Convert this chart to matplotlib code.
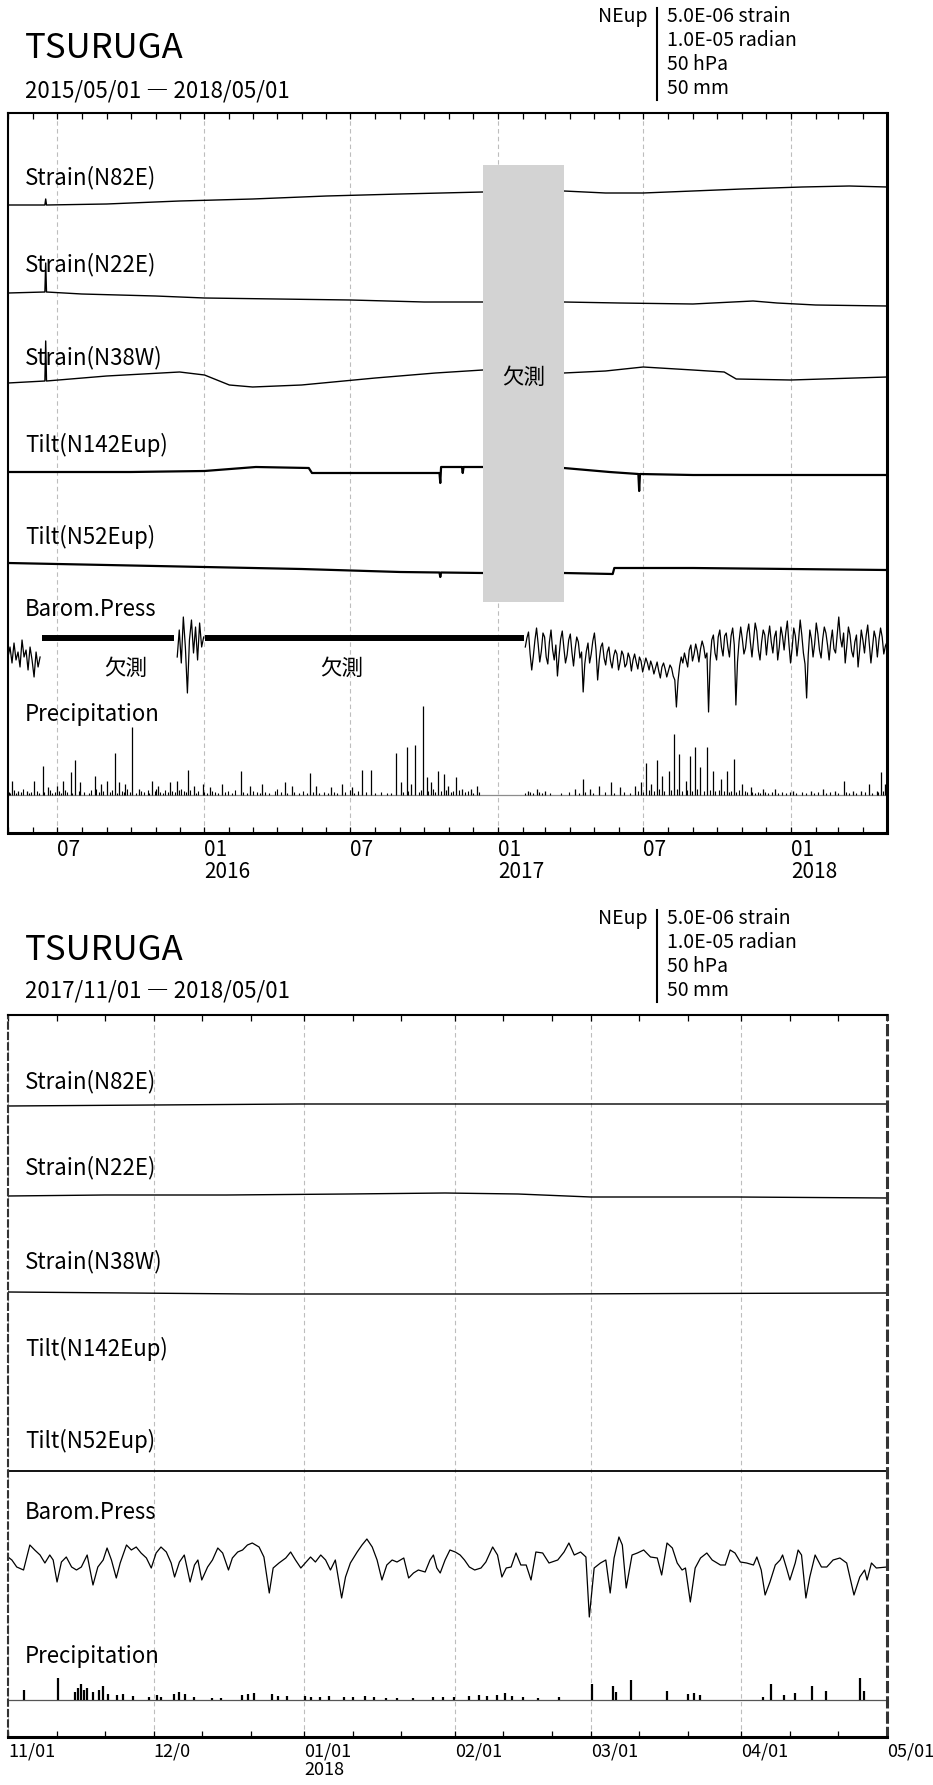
import matplotlib
matplotlib.use("Agg")
import matplotlib.pyplot as plt
import matplotlib.dates as mdates
import matplotlib.font_manager as fm
from matplotlib.patches import Rectangle
import numpy as np
import pandas as pd

W, H = 933, 1785
L, R = 8, 887          # plot frame, px

installed = {f.name for f in fm.fontManager.ttflist}


def pick(*names):
    for n in names:
        if n in installed:
            return n
    return "DejaVu Sans"


MONO = pick("Noto Sans Mono CJK JP", "Noto Sans CJK JP", "DejaVu Sans Mono")

# px per unit on the page
STRAIN_PX = 10.0   # per 1e-6 strain
TILT_PX = 5.0      # per 1e-6 radian
PRESS_PX = 1.0     # per hPa
RAIN_PX = 1.0      # per mm

# ------------------------------------------------------------------
# 2015/05/01 - 2018/05/01
# ------------------------------------------------------------------
top_start, top_end = "2015-05-01", "2018-05-01"

n82e_date = ["2015-05-01", "2015-06-16", "2015-06-17", "2015-06-18", "2015-09-01", "2015-12-01",
             "2016-03-01", "2016-06-01", "2016-09-01", "2016-12-13", "2017-03-24", "2017-05-15",
             "2017-07-01", "2017-09-01", "2017-11-01", "2018-01-15", "2018-03-15", "2018-05-01"]
n82e_val = [0.0, 0.0, 0.6, 0.0, 0.1, 0.4, 0.6, 0.9, 1.1, 1.3, 1.4, 1.2, 1.2, 1.4, 1.6, 1.8, 1.9, 1.8]

n22e_date = ["2015-05-01", "2015-06-16", "2015-06-17", "2015-06-18", "2015-08-01", "2015-11-01",
             "2016-01-01", "2016-04-01", "2016-07-01", "2016-10-01", "2016-12-13", "2017-03-24",
             "2017-06-01", "2017-09-01", "2017-11-15", "2017-12-15", "2018-02-01", "2018-05-01"]
n22e_val = [0.0, 0.1, 3.0, 0.1, -0.1, -0.3, -0.5, -0.6, -0.7, -0.9, -0.9, -0.9,
            -1.0, -1.1, -0.8, -1.0, -1.2, -1.3]

n38w_date = ["2015-05-01", "2015-06-16", "2015-06-17", "2015-06-18", "2015-09-01", "2015-12-01",
             "2016-01-01", "2016-02-01", "2016-03-01", "2016-05-01", "2016-08-01", "2016-10-15",
             "2016-12-13", "2017-03-24", "2017-05-15", "2017-07-01", "2017-09-01", "2017-10-10",
             "2017-10-25", "2018-01-01", "2018-05-01"]
n38w_val = [-0.1, 0.1, 4.1, 0.1, 0.6, 1.0, 0.7, -0.3, -0.5, -0.3, 0.4, 0.9,
            1.2, 0.9, 1.1, 1.5, 1.2, 1.0, 0.3, 0.2, 0.5]

t142_date = ["2015-05-01", "2015-10-01", "2016-01-01", "2016-03-05", "2016-05-10", "2016-05-14",
             "2016-10-20", "2016-10-21", "2016-10-22", "2016-11-17", "2016-11-18", "2016-11-19",
             "2016-12-13", "2017-03-24", "2017-05-20", "2017-06-25", "2017-06-26", "2017-06-27",
             "2017-09-01", "2018-01-01", "2018-05-01"]
t142_val = [-0.4, -0.4, -0.2, 0.6, 0.4, -0.6, -0.6, -2.6, 0.6, 0.6, -0.6, 0.6,
            0.6, 0.4, -0.4, -0.8, -4.2, -0.8, -1.0, -1.0, -1.0]

t52_date = ["2015-05-01", "2015-09-01", "2016-01-01", "2016-05-01", "2016-09-01", "2016-10-20",
            "2016-10-21", "2016-10-22", "2016-12-13", "2017-03-24", "2017-05-24", "2017-05-26",
            "2017-09-01", "2018-01-01", "2018-05-01"]
t52_val = [0.2, -0.2, -0.6, -1.0, -1.6, -1.7, -2.6, -1.7, -1.8, -1.8, -2.0, -0.8,
           -0.8, -1.0, -1.2]

# barometric pressure (hPa), three recorded stretches
press_a_span = ("2015-05-01", "2015-06-10")
press_a = [1009, 1019, 1003, 1023, 1006, 1014, 999, 1026, 1009, 1016, 996, 1019, 1006, 989, 1014, 999, 1009]
press_b_span = ("2015-11-28", "2015-12-31")
press_b = [1009, 1036, 1003, 1049, 1019, 973, 1026, 1046, 1013, 1039, 1006, 1043, 1019, 1029]
press_c_span = ("2017-02-04", "2018-05-01")
press_c = [
    # Feb - mid Apr 2017
    1019, 1028, 1034, 1012, 996, 1010, 1026, 1038, 1022, 1004, 1015, 1033, 1029, 1009, 1002, 1024,
    1036, 1016, 1006, 1021, 990, 1010, 1027, 1035, 1018, 1003, 1011, 1026, 1032, 1014, 1000, 1017,
    1029, 1024, 1008, 1014, 974, 1002,
    # mid Apr - Jun
    1015, 1023, 1003, 1012, 1025, 1033, 1016, 986, 1006, 1019, 1023, 1008, 1001, 1014, 1019, 1005,
    998, 1010, 1016, 1012, 996, 1004, 1015, 1011, 999, 1002, 1013, 1008, 995, 1006, 1012, 1004,
    997, 1009, 1005, 994, 1001, 1008,
    # Jul - Aug
    1003, 996, 1005, 1000, 992, 998, 1004, 995, 988, 999, 1003, 997, 989, 995, 1001, 998,
    990, 986, 959, 985, 1000, 1009, 1003, 1013,
    # Sep - Oct
    1006, 999, 1016, 1021, 1005, 1012, 1022, 1015, 1004, 1017, 1025, 1019, 1008, 1013, 954, 1005,
    1026, 1031, 1013, 1006, 1029, 1036, 1019, 1010, 1030, 1033,
    # Oct 2017 - Apr 2018
    1019, 1009, 1030, 1038, 1021, 961, 1004, 1025, 1039, 1027, 1012, 1018, 1033, 1042, 1024, 1009,
    1026, 1043, 1035, 1016, 1006, 1024, 1036, 1031, 1011, 1028, 1040, 1024, 1013, 1029, 1035, 1006,
    1019, 1039, 1030, 1016, 1033, 1045, 1022, 1003, 1018, 1038, 1030, 1010, 1026, 1046, 1031, 1013,
    1002, 968, 1011, 1036, 1027, 1009, 1022, 1043, 1032, 1016, 1008, 1027, 1039, 1033, 1021, 1006,
    1024, 1036, 1017, 1013, 1031, 1049, 1028, 1019, 1033, 1003, 1020, 1039, 1031, 1015, 1009, 1024,
    1031, 999, 1016, 1036, 1026, 1013, 1030, 1041, 1022, 1003, 1019, 1035, 1028, 1009, 1026, 1038,
    1029, 1012, 1020, 1024]
press_missing = [("2015-06-12", "2015-11-24"), ("2016-01-02", "2017-02-02")]

# daily precipitation (mm), day offset from 2015/05/01
rain_top_day = [5, 12, 24, 33, 44, 50, 61, 68, 78, 84, 90, 108, 116, 124, 133, 139, 146, 155, 163,
                180, 187, 202, 211, 224, 232, 243, 252, 267, 290, 302, 317, 345, 354, 377, 384, 403,
                417, 429, 441, 452, 484, 490, 497, 503, 508, 517, 522, 527, 536, 544, 549, 559, 566,
                577, 585, 648, 659, 670, 707, 717, 726, 737, 752, 763, 782, 789, 796, 802, 809, 815,
                824, 831, 837, 845, 850, 857, 863, 872, 879, 889, 897, 905, 915, 927, 941, 956, 979,
                1001, 1016, 1031, 1042, 1053, 1064, 1073, 1083, 1089, 1094]
rain_top_mm = [14, 4, 4, 14, 29, 8, 9, 14, 23, 35, 13, 19, 11, 14, 42, 13, 11, 68, 6,
               14, 9, 13, 14, 25, 9, 11, 8, 11, 24, 9, 11, 13, 9, 22, 9, 8,
               11, 8, 25, 25, 42, 13, 48, 11, 50, 89, 18, 13, 24, 21, 9, 18, 6,
               6, 9, 4, 6, 4, 6, 16, 6, 9, 13, 8, 9, 13, 32, 11, 35, 19,
               24, 61, 41, 14, 39, 48, 28, 48, 24, 16, 24, 36, 11, 8, 6, 6, 4,
               4, 6, 4, 14, 4, 4, 11, 4, 23, 11]
drizzle_day = [1, 3, 8, 10, 16, 19, 26, 29, 36, 39, 45, 52, 55, 58, 63, 66, 71, 74, 80, 88, 95, 101,
               104, 110, 113, 119, 127, 130, 136, 142, 145, 149, 152, 159, 166, 170, 174, 176, 183,
               185, 190, 193, 196, 199, 205, 208, 213, 216, 219, 222, 227, 234, 237, 245, 248, 254,
               258, 262, 270, 274, 279, 283, 293, 298, 306, 311, 314, 321, 326, 333, 336, 341, 348,
               357, 363, 368, 373, 380, 388, 394, 399, 406, 410, 420, 426, 432, 437, 446, 457, 465,
               472, 478, 493, 499, 512, 515, 524, 530, 533, 540, 546, 552, 555, 562, 570, 573, 580,
               587, 645, 651, 655, 662, 666, 676, 690, 700, 712, 720, 730, 744, 756, 768, 775, 785,
               792, 799, 805, 812, 818, 827, 834, 841, 847, 853, 859, 868, 875, 882, 886, 893, 899,
               902, 908, 912, 919, 922, 928, 931, 935, 938, 944, 948, 952, 960, 965, 970, 975, 983,
               990, 995, 1005, 1010, 1020, 1025, 1035, 1045, 1048, 1057, 1068, 1077, 1085, 1091]
drizzle_mm = [3, 2, 5, 2, 3, 6, 2, 3, 4, 2, 3, 5, 2, 3, 4, 2, 5, 3, 2, 4, 3, 2,
              5, 6, 3, 4, 3, 5, 2, 4, 3, 6, 3, 2, 4, 3, 5, 2, 4,
              6, 3, 2, 5, 3, 4, 3, 5, 6, 4, 3, 5, 2, 4, 3, 2, 4,
              3, 2, 3, 4, 2, 5, 3, 2, 4, 3, 2, 3, 2, 4, 6, 3, 2,
              3, 2, 4, 2, 3, 2, 3, 2, 3, 2, 3, 5, 2, 4, 3, 2, 3,
              2, 2, 3, 4, 3, 5, 4, 6, 3, 4, 5, 3, 4, 5, 3, 4, 2,
              3, 2, 3, 2, 3, 2, 2, 2, 3, 2, 3, 2, 3, 2, 3, 2, 4,
              3, 5, 4, 6, 4, 5, 6, 4, 5, 4, 6, 4, 5, 4, 5, 4, 3,
              4, 3, 5, 4, 3, 3, 2, 3, 2, 3, 2, 3, 2, 3, 2, 3, 2,
              3, 2, 2, 3, 2, 3, 2, 3, 2, 2, 3, 2, 3, 4]
gap_box = ("2016-12-13", "2017-03-24")

# ------------------------------------------------------------------
# 2017/11/01 - 2018/05/01  (day offsets from 11/01)
# ------------------------------------------------------------------
bot_start, bot_end = "2017-11-01", "2018-05-01"

n82e_b_day = [0, 30, 60, 90, 120, 150, 181]
n82e_b_val = [0.0, 0.1, 0.2, 0.2, 0.2, 0.2, 0.2]
n22e_b_day = [0, 20, 45, 70, 90, 105, 120, 150, 181]
n22e_b_val = [0.0, 0.1, 0.1, 0.2, 0.3, 0.2, -0.1, -0.1, -0.2]
n38w_b_day = [0, 25, 50, 80, 110, 140, 181]
n38w_b_val = [0.1, 0.0, -0.1, -0.1, -0.1, -0.05, 0.0]
t52_b_day = [0, 60, 120, 181]
t52_b_val = [0.0, 0.0, 0.0, 0.0]

press_b_day = [0.0, 0.8, 1.8, 3.2, 4.5, 5.5, 6.6, 7.6, 8.6, 9.3, 10.1, 11.0, 12.0, 13.1, 14.1, 15.1,
               16.3, 17.5, 18.5, 19.6, 20.4, 21.3, 22.3, 23.1, 24.4, 25.4, 26.4, 27.4, 28.5, 29.5,
               30.5, 31.5, 32.6, 33.6, 34.3, 35.3, 36.3, 37.5, 38.4, 39.1, 39.9, 41.1, 42.1, 43.2,
               44.2, 45.4, 46.2, 47.3, 48.3, 49.3, 50.3, 51.7, 52.7, 53.8, 54.6, 55.8, 57.2, 58.2,
               59.2, 60.3, 61.2, 62.3, 63.3, 64.4, 65.4, 66.4, 67.4, 68.7, 69.5, 70.5, 71.9, 72.9,
               73.9, 75.0, 76.0, 77.0, 78.0, 79.1, 80.1, 81.5, 82.5, 83.5, 84.5, 85.9, 86.9, 87.6,
               88.3, 89.0, 90.0, 91.0, 92.1, 93.1, 94.0, 95.0, 96.1, 97.4, 98.4, 99.8, 100.8, 101.7,
               102.6, 103.6, 104.6, 105.6, 106.7, 107.7, 108.7, 110.1, 111.4, 113.2, 114.5, 115.5,
               116.6, 117.9, 119.0, 119.7, 120.7, 122.0, 123.1, 124.0, 124.8, 125.8, 126.5, 127.3,
               128.5, 129.6, 130.9, 132.3, 133.7, 134.6, 135.7, 136.8, 137.8, 138.8, 139.5, 140.5,
               141.5, 142.6, 143.9, 145.0, 146.7, 147.7, 148.7, 149.7, 150.8, 152.1, 153.5, 154.2,
               155.1, 155.9, 156.9, 158.0, 159.0, 159.5, 160.3, 161.0, 162.1, 162.7, 163.4, 164.3,
               165.1, 166.2, 167.5, 168.6, 169.9, 171.3, 172.7, 174.2, 175.4, 176.4, 176.9, 177.8,
               178.8, 181.0]
press_b_hpa = [1016, 1013, 1006, 1003, 1028, 1023, 1018, 1010, 1018, 1013, 991, 1011, 1016, 1006, 1003,
               1006, 1018, 988, 1006, 1013, 1025, 1013, 995, 1010, 1028, 1023, 1026, 1020, 1015, 1005,
               1020, 1026, 1021, 1010, 996, 1011, 1018, 991, 1008, 1013, 993, 1006, 1013, 1025,
               1020, 1003, 1015, 1021, 1023, 1028, 1030, 1026, 1016, 980, 1005, 1010, 1015, 1021,
               1013, 1005, 1010, 1016, 1011, 1018, 1013, 1003, 1013, 975, 996, 1010, 1021, 1028,
               1034, 1026, 1013, 993, 1008, 1013, 1011, 1015, 995, 1000, 1003, 1001, 1013, 1018,
               1005, 1000, 1013, 1023, 1021, 1018, 1013, 1006, 1003, 1005, 1011, 1026, 1018, 996,
               1005, 1006, 1020, 1008, 1008, 993, 1021, 1020, 1010, 1013, 1021, 1030,
               1018, 1021, 1016, 956, 1005, 1010, 1013, 980, 1015, 1036, 1028, 985,
               1018, 1020, 1023, 1016, 1015, 998, 1030, 1025, 1010, 1003, 1005, 971,
               1005, 1015, 1020, 1013, 1008, 1008, 1023, 1020, 1011, 1010, 1008, 1016,
               1003, 978, 991, 1008, 1013, 1018, 1005, 993, 1010, 1023, 1018, 975,
               996, 1018, 1006, 1006, 1013, 1015, 1010, 978, 996, 1003, 993, 1010,
               1005, 1006]

# hourly precipitation (mm)
rain_b_day = [3.3, 10.3, 13.8, 14.4, 15.0, 15.6, 16.2, 17.4, 18.7, 19.5, 20.5, 22.4, 23.6, 25.7,
              29.1, 30.6, 31.6, 34.1, 35.3, 36.5, 38.4, 42.1, 43.9, 48.2, 49.5, 50.7, 54.4, 55.6,
              57.5, 61.2, 62.4, 64.2, 66.1, 69.2, 71.0, 73.5, 75.3, 77.8, 80.2, 83.3, 87.6, 89.5,
              91.9, 95.0, 96.9, 98.7, 100.6, 102.4, 103.7, 106.1, 109.2, 113.5, 120.3, 124.6,
              125.2, 128.3, 135.7, 140.0, 141.2, 142.4, 155.4, 157.2, 159.7, 162.1, 165.6, 168.5,
              175.4, 176.3]
rain_b_mm = [10, 22, 8, 12, 16, 10, 12, 8, 10, 14, 6, 5, 6, 4,
             3, 5, 3, 6, 8, 6, 3, 2, 2, 5, 6, 7, 6, 4,
             4, 4, 3, 3, 4, 3, 3, 4, 3, 2, 2, 2, 3, 3,
             3, 4, 5, 4, 5, 7, 4, 3, 2, 3, 16, 14,
             8, 20, 9, 6, 7, 5, 3, 16, 5, 7, 14, 9,
             22, 9]

legend_lines = ["5.0E-06 strain", "1.0E-05 radian", "50 hPa", "50 mm"]
trace_names = ["Strain(N82E)", "Strain(N22E)", "Strain(N38W)", "Tilt(N142Eup)", "Tilt(N52Eup)",
               "Barom.Press", "Precipitation"]

# ------------------------------------------------------------------
fig = plt.figure(figsize=(W / 100, H / 100), dpi=100)
d2n = mdates.datestr2num


def make_panel(top, bottom, start, end):
    ax = fig.add_axes([L / W, 1 - bottom / H, (R - L) / W, (bottom - top) / H])
    ax.set_xlim(d2n(start), d2n(end))
    ax.set_ylim(bottom, top)
    ax.set_yticks([])
    for side in ["top", "left"]:
        ax.spines[side].set_linewidth(1.5)
    for side in ["bottom", "right"]:
        ax.spines[side].set_linewidth(2.2)
    ax.tick_params(axis="x", which="both", direction="in", top=True, bottom=True,
                   length=4.3, width=0.9, labelsize=15, pad=4)
    ax.grid(True, axis="x", which="major", color="#bdbdbd", lw=0.8, linestyle=(0, (4, 3)))
    return ax


def trace(ax, x, vals, ref, scale, lw=1.0):
    ax.plot(x, ref - np.asarray(vals, float) * scale, color="black", lw=lw, zorder=2)


# ---------------- top panel ----------------
ax1 = make_panel(113, 833, top_start, top_end)
t0 = d2n(top_start)
trace(ax1, d2n(n82e_date), n82e_val, 205, STRAIN_PX)
trace(ax1, d2n(n22e_date), n22e_val, 293, STRAIN_PX)
trace(ax1, d2n(n38w_date), n38w_val, 382, STRAIN_PX)
trace(ax1, d2n(t142_date), t142_val, 470, TILT_PX, lw=1.6)
trace(ax1, d2n(t52_date), t52_val, 564, TILT_PX, lw=1.6)
for span, vals in [(press_a_span, press_a), (press_b_span, press_b), (press_c_span, press_c)]:
    xs = mdates.date2num(pd.date_range(span[0], span[1], periods=len(vals)))
    trace(ax1, xs, np.asarray(vals) - 1013, 653, PRESS_PX, lw=0.9)
for a, b in press_missing:
    ax1.plot([d2n(a), d2n(b)], [638, 638], color="black", lw=4.3, solid_capstyle="butt", zorder=2)

ax1.axhline(795, color="#8c8c8c", lw=0.9, zorder=1)
ax1.vlines(t0 + np.asarray(drizzle_day), 795, 795 - np.asarray(drizzle_mm) * RAIN_PX,
           color="black", lw=0.8, zorder=2)
ax1.vlines(t0 + np.asarray(rain_top_day), 795, 795 - np.asarray(rain_top_mm) * RAIN_PX,
           color="black", lw=0.9, zorder=2)

g0, g1 = d2n(gap_box[0]), d2n(gap_box[1])
ax1.add_patch(Rectangle((g0, 165), g1 - g0, 437, facecolor="#d3d3d3", edgecolor="none", zorder=3))
ax1.text((g0 + g1) / 2, 378, "欠測", ha="center", va="center", fontsize=15.5,
         family=MONO, zorder=4)

months_top = mdates.date2num(pd.date_range(top_start, top_end, freq="MS"))
ax1.set_xticks(months_top, minor=True)
ax1.set_xticks(d2n(["2015-07-01", "2016-01-01", "2016-07-01", "2017-01-01", "2017-07-01", "2018-01-01"]),
               labels=["07", "01\n2016", "07", "01\n2017", "07", "01\n2018"])

# ---------------- bottom panel ----------------
ax2 = make_panel(1015, 1737, bot_start, bot_end)
b0 = d2n(bot_start)
for side in ["left", "right"]:
    ax2.spines[side].set_linestyle((0, (3, 2)))
    ax2.spines[side].set_color("#333333")
trace(ax2, b0 + np.asarray(n82e_b_day), n82e_b_val, 1106, STRAIN_PX)
trace(ax2, b0 + np.asarray(n22e_b_day), n22e_b_val, 1196, STRAIN_PX)
trace(ax2, b0 + np.asarray(n38w_b_day), n38w_b_val, 1293, STRAIN_PX)
trace(ax2, b0 + np.asarray(t52_b_day), t52_b_val, 1471, TILT_PX, lw=1.3)
trace(ax2, b0 + np.asarray(press_b_day), np.asarray(press_b_hpa) - 1013, 1560, PRESS_PX, lw=0.9)
ax2.axhline(1700, color="#555555", lw=0.9, zorder=1)
ax2.vlines(b0 + np.asarray(rain_b_day), 1700, 1700 - np.asarray(rain_b_mm) * RAIN_PX,
           color="black", lw=1.6, zorder=2)

months_bot = pd.date_range(bot_start, bot_end, freq="MS")
dekads = [d + pd.Timedelta(days=k) for d in months_bot[:-1] for k in (10, 20)]
ax2.set_xticks(mdates.date2num(dekads), minor=True)
ax2.set_xticks(mdates.date2num(months_bot),
               labels=["11/01", "12/0", "01/01\n2018", "02/01", "03/01", "04/01", "05/01"])
ax2.tick_params(axis="x", labelsize=13)

for ax in (ax1, ax2):
    for lab in ax.get_xticklabels():
        lab.set_horizontalalignment("left")
        lab.set_family(MONO)
        lab.set_linespacing(1.0)

# ---------------- page text ----------------
ov = fig.add_axes([0, 0, 1, 1], facecolor="none")
ov.set_xlim(0, W)
ov.set_ylim(H, 0)
ov.axis("off")

panels = [
    ("2015/05/01 ― 2018/05/01", 0, [178, 265, 358, 445, 537, 609, 714]),
    ("2017/11/01 ― 2018/05/01", 902, [1082, 1168, 1262, 1349, 1441, 1512, 1656]),
]
for period, dy, label_y in panels:
    ov.text(25, 48 + dy, "TSURUGA", fontsize=25, family=MONO, va="center")
    ov.text(25, 91 + dy - (2 if dy else 0), period, fontsize=16, family=MONO, va="center")
    ov.text(648, 16 + dy, "NEup", fontsize=14, family=MONO, va="center", ha="right")
    ov.plot([657, 657], [8 + dy, 100 + dy], color="black", lw=1.5)
    for i, s in enumerate(legend_lines):
        ov.text(667, 16 + dy + 24 * i, s, fontsize=14, family=MONO, va="center")
    for name, y in zip(trace_names, label_y):
        ov.text(25, y, name, fontsize=16, family=MONO, va="center")

ov.text(126, 669, "欠測", fontsize=15.5, family=MONO, va="center", ha="center")
ov.text(342, 669, "欠測", fontsize=15.5, family=MONO, va="center", ha="center")

fig.savefig("out.png", dpi=100)
